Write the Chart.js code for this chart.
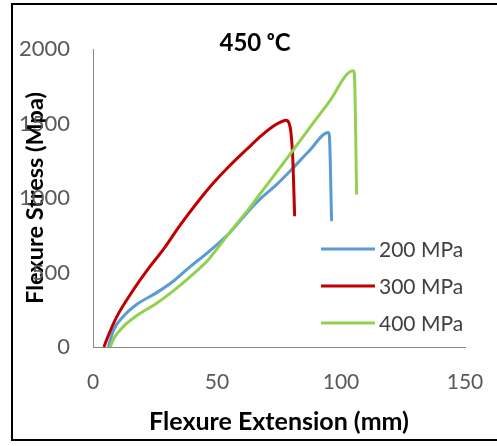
<!DOCTYPE html>
<html>
<head>
<meta charset="utf-8">
<script src="https://cdn.jsdelivr.net/npm/chart.js@4.4.1/dist/chart.umd.min.js"></script>
<style>
  html, body { margin: 0; padding: 0; background: #fff; }
  #wrap { width: 497px; height: 446px; }
</style>
</head>
<body>
<div id="wrap"><canvas id="chart" width="497" height="446"></canvas></div>
<script>
// values
const seriesNames = ["200 MPa", "300 MPa", "400 MPa"];
const seriesColors = ["#5B9BD5", "#C00000", "#92D050"];

const ext200 = [6.2, 8.2, 12.2, 18, 25.7, 33, 39.2, 46, 55, 62.6, 67.2, 74, 80, 87.4, 94.8, 95.3, 96.2];
const str200 = [0, 110, 205, 290, 365, 450, 540, 630, 765, 910, 990, 1090, 1190, 1320, 1440, 1420, 845];

const ext300 = [4.4, 6, 9.6, 16.3, 23, 28.3, 35, 43, 48.6, 55, 62, 68, 72.8, 76, 77.8, 79, 79.8, 80.6, 81.3];
const str300 = [0, 70, 204, 384, 541, 653, 815, 990, 1102, 1215, 1327, 1420, 1483, 1512, 1522, 1505, 1440, 1250, 877];

const ext400 = [6.9, 8.5, 12.2, 18, 25.7, 33, 39.2, 46.5, 55, 62.6, 67.2, 75, 84, 87.4, 95, 104.9, 105.4, 106.3];
const str400 = [0, 60, 137, 215, 294, 385, 473, 586, 766, 922, 1024, 1195, 1395, 1473, 1640, 1854, 1830, 1024];

const xTicks = [0, 50, 100, 150];
const yTicks = [0, 500, 1000, 1500, 2000];

const chartTitle = "450 ᵒC";
const xTitle = "Flexure Extension (mm)";
const yTitle = "Flexure Stress (Mpa)";

function toPoints(xs, ys) {
    return xs.map((x, i) => ({x: x, y: ys[i]}));
}

const allX = [ext200, ext300, ext400];
const allY = [str200, str300, str400];

// Excel draws the last series on top
let datasets = seriesNames.map((name, i) => ({
    label: name,
    data: toPoints(allX[i], allY[i]),
    borderColor: seriesColors[i],
    backgroundColor: seriesColors[i],
    borderWidth: 3,
    pointRadius: 0,
    showLine: true,
    fill: false,
    cubicInterpolationMode: "monotone",
    order: seriesNames.length - i
}));

// outer frame round the whole chart
const framePlugin = {
    id: "frame",
    beforeDraw(chart) {
        let ctx = chart.ctx;
        ctx.save();
        ctx.fillStyle = "#fff";
        ctx.fillRect(0, 0, chart.width, chart.height);
        ctx.strokeStyle = "#000";
        ctx.lineWidth = 2;
        ctx.strokeRect(12, 4, 500, 436);
        ctx.restore();
    }
};

// title with the raised "o"
const titlePlugin = {
    id: "topTitle",
    afterDraw(chart) {
        let ctx = chart.ctx;
        ctx.save();
        ctx.font = "bold 24px Lato, 'DejaVu Sans'";
        ctx.fillStyle = "#000";
        ctx.textAlign = "center";
        ctx.textBaseline = "middle";
        ctx.fillText(chartTitle, 255, 43);
        ctx.restore();
    }
};

// legend sits inside the plot, lower right
const legendPlugin = {
    id: "insideLegend",
    afterDraw(chart) {
        let ctx = chart.ctx;
        ctx.save();
        ctx.font = "21px Lato";
        ctx.textAlign = "left";
        ctx.textBaseline = "middle";
        seriesNames.forEach((name, i) => {
            let y = 249 + i * 37;
            ctx.strokeStyle = seriesColors[i];
            ctx.lineWidth = 3;
            ctx.beginPath();
            ctx.moveTo(321, y);
            ctx.lineTo(375, y);
            ctx.stroke();
            ctx.fillStyle = "#404040";
            ctx.fillText(name, 379, y + 1);
        });
        ctx.restore();
    }
};

let ctx = document.getElementById("chart").getContext("2d");
let chart = new Chart(ctx, {
    type: "scatter",
    data: { datasets: datasets },
    plugins: [framePlugin, titlePlugin, legendPlugin],
    options: {
        responsive: false,
        animation: false,
        devicePixelRatio: 1,
        layout: {
            padding: { left: 0, right: 32, top: 49, bottom: 0 }
        },
        plugins: {
            legend: { display: false },
            title: { display: false },
            tooltip: { enabled: false }
        },
        scales: {
            x: {
                type: "linear",
                min: 0,
                max: 150,
                afterBuildTicks: function(scale) {
                    scale.ticks = xTicks.map(v => ({value: v}));
                },
                afterFit: function(scale) { scale.height = 99; },
                // ticks are not drawn, tickLength only pushes the labels down
                grid: { display: false, drawTicks: true, tickLength: 20 },
                border: { display: true, color: "#888", width: 1 },
                ticks: {
                    padding: 3,
                    color: "#595959",
                    font: { family: "Lato", size: 21 },
                    maxRotation: 0,
                    callback: v => String(v)
                },
                title: {
                    display: true,
                    text: xTitle,
                    color: "#000",
                    font: { family: "Lato", size: 25, weight: "bold" },
                    padding: { top: 0, bottom: 9 }
                }
            },
            y: {
                type: "linear",
                min: 0,
                max: 2000,
                afterBuildTicks: function(scale) {
                    scale.ticks = yTicks.map(v => ({value: v}));
                },
                afterFit: function(scale) { scale.width = 93; },
                grid: { display: false, drawTicks: true, tickLength: 20 },
                border: { display: true, color: "#888", width: 1 },
                ticks: {
                    padding: 3,
                    color: "#595959",
                    font: { family: "Lato", size: 22 },
                    callback: v => String(v)
                },
                title: {
                    display: true,
                    text: yTitle,
                    color: "#000",
                    font: { family: "Lato", size: 23.5, weight: "bold" },
                    padding: { top: 21, bottom: 0 }
                }
            }
        }
    }
});
</script>
</body>
</html>
